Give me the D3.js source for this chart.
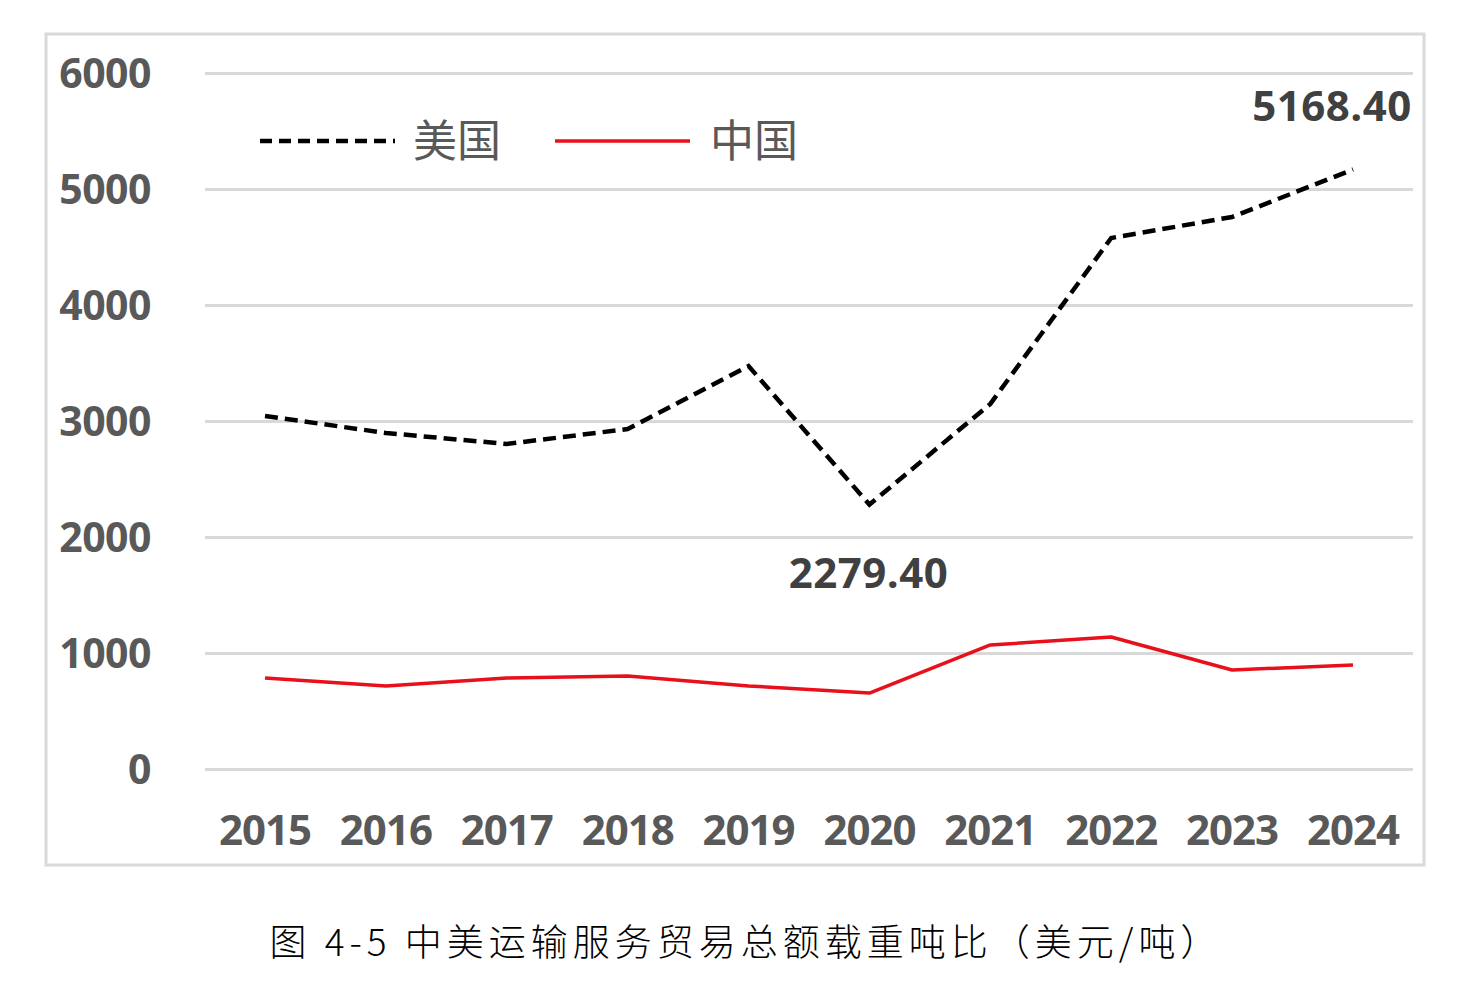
<!DOCTYPE html>
<html>
<head>
<meta charset="utf-8">
<script src="https://cdn.jsdelivr.net/npm/d3@7"></script>
<style>
  html, body { margin: 0; padding: 0; background: #fff; }
  svg { display: block; }
</style>
</head>
<body>
<div id="chart"></div>
<script>
// data
const years = ['2015', '2016', '2017', '2018', '2019', '2020', '2021', '2022', '2023', '2024'];
const usValues = [3043, 2897, 2802, 2931, 3474, 2279.4, 3147, 4578, 4759, 5168.4];
const cnValues = [784, 716, 784, 802, 716, 655, 1069, 1138, 853, 897];
const yTicks = [0, 1000, 2000, 3000, 4000, 5000, 6000];
const seriesNames = ['美国', '中国'];
const captionText = '图 4-5 中美运输服务贸易总额载重吨比（美元/吨）';

const width = 1484, height = 991;
const tickFont = '"Open Sans", "Noto Sans", sans-serif';
const cjkFont = '"Noto Sans CJK SC", sans-serif';

const svg = d3.select('#chart')
    .append('svg')
    .attr('width', width)
    .attr('height', height);

// outer frame
svg.append('rect')
    .attr('x', 46).attr('y', 34)
    .attr('width', 1378).attr('height', 831)
    .attr('fill', '#fff')
    .attr('stroke', '#d9d9d9')
    .attr('stroke-width', 3);

const x = d3.scalePoint()
    .domain(years)
    .range([265, 1353]);

const y = d3.scaleLinear()
    .domain([0, 6000])
    .range([769, 73]);

// gridlines
svg.append('g')
    .attr('transform', 'translate(205,0)')
    .call(d3.axisLeft(y).tickValues(yTicks).tickSize(-1208).tickFormat(''))
    .call(g => g.select('.domain').remove())
    .call(g => g.selectAll('.tick line').attr('stroke', '#d9d9d9').attr('stroke-width', 3));

// y tick labels
svg.append('g')
    .selectAll('text')
    .data(yTicks)
    .enter()
    .append('text')
    .attr('x', 151)
    .attr('y', d => y(d))
    .attr('dy', '0.36em')
    .attr('text-anchor', 'end')
    .style('font-family', tickFont)
    .style('font-weight', 'bold')
    .style('font-size', '41px')
    .style('letter-spacing', '-0.5px')
    .style('fill', '#595959')
    .text(d => d);

// x tick labels
svg.append('g')
    .selectAll('text')
    .data(years)
    .enter()
    .append('text')
    .attr('x', d => x(d))
    .attr('y', 845)
    .attr('text-anchor', 'middle')
    .style('font-family', tickFont)
    .style('font-weight', 'bold')
    .style('font-size', '42px')
    .style('letter-spacing', '-1px')
    .style('fill', '#595959')
    .text(d => d);

const line = d3.line()
    .x((d, i) => x(years[i]))
    .y(d => y(d));

svg.append('path')
    .datum(cnValues)
    .attr('fill', 'none')
    .attr('stroke', '#e8101a')
    .attr('stroke-width', 3.5)
    .attr('stroke-linejoin', 'round')
    .attr('d', line);

svg.append('path')
    .datum(usValues)
    .attr('fill', 'none')
    .attr('stroke', '#000')
    .attr('stroke-width', 4.5)
    .attr('stroke-dasharray', '13 7')
    .attr('d', line);

// data labels
const labels = [
    { i: 9, dx: -21, yPos: 121 },
    { i: 5, dx: -1, yPos: 588 }
];
svg.append('g')
    .selectAll('text')
    .data(labels)
    .enter()
    .append('text')
    .attr('x', d => x(years[d.i]) + d.dx)
    .attr('y', d => d.yPos)
    .attr('text-anchor', 'middle')
    .style('font-family', tickFont)
    .style('font-weight', 'bold')
    .style('font-size', '42px')
    .style('letter-spacing', '0.5px')
    .style('fill', '#404040')
    .text(d => usValues[d.i].toFixed(2));

// legend
const legend = svg.append('g')
    .attr('class', 'legend')
    .attr('transform', 'translate(260, 141)');

legend.append('line')
    .attr('x1', 0).attr('x2', 135)
    .attr('y1', 0).attr('y2', 0)
    .attr('stroke', '#000')
    .attr('stroke-width', 4.5)
    .attr('stroke-dasharray', '12 7');

legend.append('text')
    .attr('x', 153).attr('y', 0)
    .attr('dy', '0.36em')
    .style('font-family', cjkFont)
    .style('font-size', '44px')
    .style('fill', '#595959')
    .text(seriesNames[0]);

legend.append('line')
    .attr('x1', 295).attr('x2', 430)
    .attr('y1', 0).attr('y2', 0)
    .attr('stroke', '#e8101a')
    .attr('stroke-width', 3.5);

legend.append('text')
    .attr('x', 450).attr('y', 0)
    .attr('dy', '0.36em')
    .style('font-family', cjkFont)
    .style('font-size', '44px')
    .style('fill', '#595959')
    .text(seriesNames[1]);

// caption
svg.append('text')
    .attr('x', 746)
    .attr('y', 956)
    .attr('text-anchor', 'middle')
    .style('font-family', cjkFont)
    .style('font-size', '37px')
    .style('font-weight', '300')
    .style('letter-spacing', '5px')
    .style('fill', '#000')
    .text(captionText);
</script>
</body>
</html>
